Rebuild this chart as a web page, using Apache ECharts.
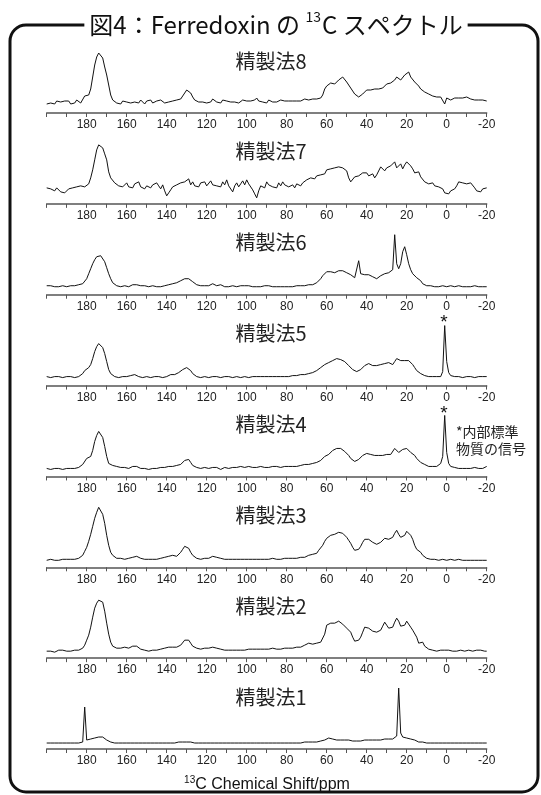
<!DOCTYPE html>
<html><head><meta charset="utf-8">
<script src="https://cdn.jsdelivr.net/npm/echarts@6/dist/echarts.min.js"></script>
<style>html,body{margin:0;padding:0;background:#fff}#c{width:541px;height:795px}</style>
</head><body><div id="c"></div>
<script>
// ---- data (intensity, 1 ppm steps from 200 down to -20) ----
const PPM_START = 200;
const PPM_STEP = 1;
const TICK_LABELS = [180, 160, 140, 120, 100, 80, 60, 40, 20, 0, -20];
const PANEL_TITLES = ['精製法8', '精製法7', '精製法6', '精製法5', '精製法4', '精製法3', '精製法2', '精製法1'];

const spec8 = [
  9,8,10,11,9,12,10,11,9,12,
  10,12,9,11,10,13,11,10,12,17,
  18,18,24,36,48,56,60,60,55,46,
  38,28,18,13,11,10,11,9,12,10,
  11,13,10,12,11,12,10,13,11,9,
  12,11,13,10,12,12,11,13,12,10,
  12,11,13,12,14,13,15,14,17,20,
  23,24,20,16,13,12,11,13,11,12,
  10,12,11,14,12,11,12,10,13,11,
  12,10,11,12,11,12,10,11,13,11,
  12,14,12,11,13,15,12,13,11,12,
  10,13,12,11,12,11,12,13,11,12,
  11,12,11,12,12,12,13,12,13,14,
  12,13,15,14,14,14,15,15,18,24,
  27,29,30,29,29,31,33,35,36,34,
  31,28,25,22,19,17,16,17,19,21,
  23,24,23,22,24,23,24,26,25,26,
  29,28,30,32,33,36,34,33,35,38,
  40,41,36,34,31,30,27,24,23,21,
  20,19,18,17,17,16,17,16,16,9,
  15,14,13,14,15,14,15,16,15,16,
  16,15,14,14,13,12,13,12,13,12,
  12
];
const spec7 = [
  16,14,15,17,13,16,15,12,14,11,
  12,15,13,16,14,17,15,18,16,17,
  18,20,26,34,44,54,59,60,56,50,
  44,32,26,24,21,22,18,20,17,19,
  21,17,19,16,20,18,22,17,19,15,
  18,20,16,19,17,21,18,15,19,13,
  8,11,14,17,16,19,18,21,19,22,
  21,25,19,22,18,20,17,21,19,22,
  18,20,23,19,21,18,20,17,22,19,
  24,18,16,12,18,21,17,20,23,19,
  24,20,18,14,10,6,13,18,20,16,
  22,19,20,17,15,16,21,18,22,19,
  21,17,15,19,16,20,22,18,21,19,
  24,22,26,27,25,28,30,29,31,30,
  34,32,35,33,36,35,37,39,36,38,
  33,26,22,24,27,25,28,30,31,29,
  31,28,27,30,26,29,31,37,35,33,
  36,34,38,37,42,36,38,40,35,39,
  42,40,38,35,31,29,32,27,29,22,
  22,20,19,21,18,19,17,18,15,11,
  12,10,13,11,15,18,22,20,21,19,
  20,18,21,19,16,13,14,12,15,13,
  16
];
const spec6 = [
  9,8,9,9,8,9,8,9,9,8,
  8,9,9,8,9,9,10,10,11,13,
  16,21,26,31,35,38,40,39,37,33,
  27,21,16,12,10,9,8,8,9,9,
  9,8,9,10,11,10,9,9,8,9,
  9,8,8,9,9,8,9,8,9,9,
  9,10,11,11,11,12,13,14,15,16,
  16,16,15,13,11,10,9,9,8,9,
  9,9,10,11,10,9,9,10,9,8,
  9,8,8,9,9,8,9,9,10,9,
  10,9,9,8,8,8,9,8,8,9,
  8,9,8,8,9,8,9,8,9,8,
  8,8,9,8,9,9,8,9,9,9,
  10,10,10,10,11,12,14,16,19,21,
  23,24,23,22,22,23,24,25,24,23,
  22,21,20,18,17,16,34,21,19,20,
  20,20,19,18,17,16,17,19,21,21,
  21,22,23,25,60,31,26,31,43,48,
  40,31,25,21,19,17,16,14,11,10,
  9,9,9,8,8,9,8,8,9,8,
  8,8,9,8,8,9,9,8,8,9,
  8,9,8,8,9,8,8,7,8,8,
  8
];
const spec5 = [
  9,9,8,9,9,8,9,9,8,9,
  9,8,9,9,8,9,9,10,12,15,
  17,18,21,27,34,39,42,42,38,32,
  24,16,12,10,9,9,8,9,9,8,
  9,9,10,10,11,10,9,9,8,9,
  9,9,8,9,9,8,9,9,8,9,
  9,10,11,10,11,12,13,14,16,17,
  18,17,15,12,10,9,9,8,9,9,
  9,8,9,9,10,9,9,8,9,9,
  8,9,9,8,9,9,9,8,9,9,
  9,8,9,9,8,9,9,9,8,9,
  9,9,8,9,9,9,8,9,9,9,
  9,9,9,10,9,10,10,11,11,11,
  12,12,12,13,14,15,16,18,20,21,
  22,23,24,25,26,27,27,26,25,24,
  22,20,18,16,15,14,15,16,17,20,
  22,22,21,20,20,20,20,21,21,22,
  23,23,22,21,24,27,26,25,24,25,
  26,25,23,21,18,15,13,12,11,10,
  10,9,9,9,9,9,9,9,14,60,
  24,13,10,9,9,8,9,9,8,9,
  9,8,9,9,8,9,9,8,9,9,
  9
];
const spec4 = [
  8,8,7,8,8,9,8,8,7,8,
  8,9,8,8,8,8,9,9,12,14,
  18,18,20,26,35,41,45,45,39,30,
  20,13,11,11,10,10,9,9,8,9,
  8,8,9,10,11,10,8,8,8,8,
  8,7,8,8,8,8,8,9,8,9,
  9,10,11,10,10,11,11,12,14,16,
  17,17,14,11,10,9,9,8,9,9,
  9,8,9,9,8,9,8,7,8,9,
  9,8,9,9,8,9,9,10,9,9,
  9,10,9,9,10,9,9,10,9,9,
  10,9,10,10,9,10,9,9,10,10,
  9,10,10,10,11,10,11,11,11,12,
  12,12,12,13,13,14,15,16,18,20,
  20,22,24,26,27,28,28,28,27,25,
  23,21,18,16,15,16,17,19,21,22,
  23,23,22,21,21,21,21,21,21,22,
  22,21,22,24,28,26,24,25,27,28,
  28,26,24,24,21,18,16,14,13,12,
  11,10,10,10,10,10,11,13,20,61,
  24,13,10,9,9,9,8,9,8,8,
  8,9,8,8,9,8,8,9,8,9,
  10
];
const spec3 = [
  7,7,8,7,7,8,7,8,8,7,
  8,8,8,9,8,8,9,10,12,16,
  20,26,33,41,49,55,60,59,53,44,
  32,22,15,12,10,9,9,9,8,8,
  9,9,9,10,11,11,10,9,9,8,
  8,8,8,8,9,8,8,9,9,10,
  10,11,12,12,11,11,13,15,18,21,
  21,19,15,12,10,9,9,8,8,9,
  9,9,10,11,11,10,10,9,9,8,
  8,8,8,8,8,8,8,8,8,8,
  8,8,8,8,8,8,8,8,8,8,
  8,8,8,9,8,8,9,8,8,9,
  9,9,9,9,9,9,9,10,10,10,
  11,12,13,13,13,14,17,19,22,26,
  29,31,32,33,33,34,35,35,34,32,
  30,27,24,20,17,16,18,21,25,28,
  29,28,27,25,24,23,24,25,27,29,
  30,28,27,30,34,37,33,30,29,32,
  36,35,32,28,22,18,16,15,12,10,
  9,8,8,8,8,8,7,7,8,7,
  7,7,8,7,7,7,8,7,7,7,
  7,7,7,8,7,7,7,7,7,7,
  7
];
const spec2 = [
  7,8,7,7,6,7,8,7,8,7,
  7,8,7,8,8,7,8,9,10,13,
  18,23,31,41,50,55,58,60,56,47,
  35,24,16,12,11,10,10,10,11,11,
  10,10,11,12,13,12,10,9,9,8,
  8,7,7,8,8,8,9,9,9,10,
  10,11,11,11,11,11,12,13,15,18,
  19,18,15,12,10,10,9,9,10,10,
  10,10,10,11,11,10,10,9,9,8,
  8,8,8,8,8,8,8,8,8,8,
  8,9,9,9,9,9,9,9,9,9,
  9,9,9,10,9,9,10,9,9,10,
  10,10,10,10,10,11,11,11,11,13,
  15,15,14,14,14,15,15,16,17,24,
  33,34,35,35,35,36,37,36,34,32,
  30,28,26,21,17,16,18,21,26,31,
  32,30,28,27,26,26,26,28,32,36,
  33,30,28,31,36,40,37,32,30,33,
  37,35,31,28,26,21,15,15,16,12,
  10,9,8,8,8,7,8,8,7,8,
  7,8,7,7,8,7,7,8,7,7,
  7,8,7,7,7,8,7,8,8,7,
  7
];
const spec1 = [
  6,6,6,6,6,6,6,6,6,6,
  6,6,6,6,6,6,6,6,7,42,
  9,9,10,11,11,12,12,13,12,10,
  9,8,7,7,6,6,6,6,6,6,
  6,6,6,6,6,6,6,6,6,6,
  6,6,6,6,6,6,6,6,6,6,
  6,6,6,6,6,7,7,7,7,7,
  7,7,7,7,6,6,6,6,6,6,
  6,6,6,6,6,6,6,6,6,6,
  6,6,6,6,6,6,6,6,6,6,
  6,6,6,6,6,6,6,6,6,6,
  6,6,6,6,6,6,6,6,6,6,
  6,6,6,6,6,6,6,6,6,7,
  7,7,7,7,7,7,7,8,8,9,
  10,11,11,10,9,9,10,9,9,9,
  9,9,9,8,8,8,7,8,8,9,
  9,9,9,9,9,9,9,9,10,10,
  10,10,10,10,11,13,61,16,12,11,
  11,11,10,10,9,8,7,7,7,6,
  6,6,6,6,6,6,6,6,6,6,
  6,6,6,6,6,6,6,6,6,6,
  6,6,6,6,6,6,6,6,6,6,
  6
];
const SPECTRA = [spec8, spec7, spec6, spec5, spec4, spec3, spec2, spec1];

// ---- layout ----
const W = 541;
const PLOT_L = 46.7, PLOT_R = 486.7;
const AXIS_Y0 = 113, AXIS_DY = 90.86, PANEL_H = 70;
const axisY = k => AXIS_Y0 + k * AXIS_DY;
const CJK = '"Noto Sans CJK JP", "Noto Sans", sans-serif';
const LAT = '"Liberation Sans", Arial, sans-serif';

const chart = echarts.init(document.getElementById('c'), null, {renderer: 'canvas'});

const grids = [], xAxes = [], yAxes = [], series = [];
SPECTRA.forEach((arr, k) => {
  grids.push({left: PLOT_L, right: W - PLOT_R, top: axisY(k) - PANEL_H, height: PANEL_H, containLabel: false});
  xAxes.push({
    type: 'value', gridIndex: k, min: -20, max: 200, interval: 10, inverse: true,
    axisLine: {show: true, onZero: false, lineStyle: {color: '#555', width: 1.5}},
    axisTick: {show: true, length: 4, lineStyle: {color: '#555', width: 1}},
    axisLabel: {
      margin: 6, fontSize: 12, fontFamily: LAT, color: '#222',
      showMinLabel: true, showMaxLabel: true, hideOverlap: false,
      formatter: v => TICK_LABELS.indexOf(v) >= 0 ? String(v) : ''
    },
    splitLine: {show: false}
  });
  yAxes.push({type: 'value', gridIndex: k, min: 0, max: PANEL_H, show: false});
  series.push({
    type: 'line', xAxisIndex: k, yAxisIndex: k,
    data: arr.map((v, i) => [PPM_START - i * PPM_STEP, v]),
    symbol: 'none', showSymbol: false, silent: true,
    lineStyle: {color: '#111', width: 1}
  });
});

const graphics = [
  {type: 'rect', z: 1, shape: {x: 10, y: 25, width: 528, height: 767, r: 16},
   style: {fill: 'none', stroke: '#111', lineWidth: 3}},
  {type: 'text', z: 10, x: 276, y: 25,
   style: {text: '図4：Ferredoxin の {sup|13}C スペクトル', fontSize: 24, fontFamily: CJK, fill: '#111',
           align: 'center', verticalAlign: 'middle', backgroundColor: '#fff', padding: [0, 5],
           lineHeight: 30,
           rich: {sup: {fontSize: 14, fontFamily: CJK, fill: '#111', verticalAlign: 'top', lineHeight: 30, padding: [0, 1, 0, 0]}}}},
  {type: 'text', z: 10, x: 267, y: 785,
   style: {text: '{sup|13}C Chemical Shift/ppm', fontSize: 16, fontFamily: LAT, fill: '#111',
           align: 'center', verticalAlign: 'middle', lineHeight: 20,
           rich: {sup: {fontSize: 10, fontFamily: LAT, fill: '#111', verticalAlign: 'top', lineHeight: 20}}}},
  {type: 'text', z: 10, x: 444, y: 323,
   style: {text: '*', fontSize: 19, fontFamily: LAT, fill: '#111', align: 'center', verticalAlign: 'middle'}},
  {type: 'text', z: 10, x: 444, y: 414,
   style: {text: '*', fontSize: 19, fontFamily: LAT, fill: '#111', align: 'center', verticalAlign: 'middle'}},
  {type: 'text', z: 10, x: 456, y: 440,
   style: {text: '*内部標準\n物質の信号', fontSize: 14, fontFamily: CJK, fill: '#222', align: 'left',
           verticalAlign: 'middle', lineHeight: 17}}
];
PANEL_TITLES.forEach((t, k) => {
  graphics.push({type: 'text', z: 10, x: 271, y: axisY(k) - 52,
    style: {text: t, fontSize: 20, fontFamily: CJK, fill: '#222', align: 'center', verticalAlign: 'middle'}});
});

chart.setOption({
  animation: false,
  backgroundColor: '#fff',
  grid: grids, xAxis: xAxes, yAxis: yAxes, series: series,
  graphic: graphics
});
</script></body></html>
